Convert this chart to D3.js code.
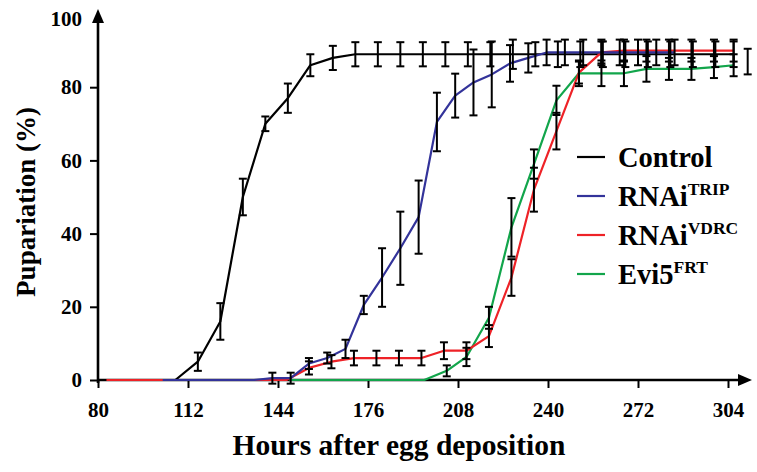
<!DOCTYPE html>
<html><head><meta charset="utf-8">
<script src="https://cdn.jsdelivr.net/npm/d3@7"></script>
<style>
body{margin:0;background:#fff;}
svg text{font-family:"Liberation Serif","Times New Roman",serif;font-weight:bold;fill:#000;}
</style></head>
<body><svg id="c" width="757" height="472"></svg>
<script>
// ---- data ----
const xTicks = [80,112,144,176,208,240,272,304];
const yTicks = [0,20,40,60,80,100];

const controlT = [99.5,107.5,115.5,123.5,131.5,139.5,147.5,155.5,163.5,171.5,179.5,187.5,195.5,203.5,211.5,219.5,227.5,235.5,243.5,251.5,259.5,267.5,275.5,283.5,291.5,299.5,306];
const controlV = [0,0,5,16,50,70,77,86,88,89,89,89,89,89,89,89,89,89,89,89,89,89,89,89,89,89,89];
const controlE = [0,0,2.5,5,5,2,4,3,3.3,3.3,3.3,3.3,3.3,3.3,3.3,3.3,4,3.3,3.5,3.5,3.5,3.5,3.5,3.5,3.5,3.5,3.5];

const tripT = [103,109.5,116,122.5,129,135.5,142,148.5,155,161.5,168,174.5,181,187.5,194,200.5,207,213.5,220,226.5,233,239.5,246,252.5,259,265.5,272,278.5,285];
const tripV = [0,0,0,0,0,0,0.5,0.5,4.5,6,8.5,20.5,28,36,44.5,70.5,77.7,81.3,83.5,86.5,88,89.5,89.5,89.5,89.5,89.5,89.5,89.5,89.5];
const tripE = [0,0,0,0,0,0,1.5,1.5,1.5,1.5,2.5,2.5,8,10,10,8,6,9,9,5,4,3.5,3.5,3.5,3.5,3.5,3.5,3.5,3.5];

const vdrcT = [83,91,99,107,115,123,131,139,147,155,163,171,179,187,195,203,211,219,227,235,243,251,259,267,275,283,291,299,306];
const vdrcV = [0,0,0,0,0,0,0,0,0,3.3,5,6,6,6,6,8,8,12,28,52,68,84,89.5,90,90,90,90,90,90];
const vdrcE = [0,0,0,0,0,0,0,0,0,1.8,1.8,2,2,2,2,2.3,2.3,3,5,6,5,3,3,3,3,3,3,3,3];

const frtT = [148,156,164,172,180,188,196,204,211,219,227,235,243,251,259,267,275,283,291,299,306];
const frtV = [0,0,0,0,0,0,0,2.5,6.3,17,41.7,59,76.4,83.8,83.8,83.8,85,85,85,85.5,86];
const frtE = [0,0,0,0,0,0,0,1.5,2.5,3,8,4,4,3.5,3.5,3.5,3.5,3,3,3,3];

const strayT = [311], strayV = [87], strayE = [3.5];

const seriesNames = ["Control","RNAi","RNAi","Evi5"];
const seriesSups = ["","TRIP","VDRC","FRT"];
const seriesColors = ["#000000","#33339a","#ee2227","#12a54b"];

// ---- drawing ----
const svg = d3.select("#c");
const x = d3.scaleLinear().domain([80,304]).range([98,728]);
const y = d3.scaleLinear().domain([0,100]).range([380,14]);

function zip(t,v,e){return t.map((d,i)=>({t:d,v:v[i],e:e[i]}));}
const series = [
  {data:zip(controlT,controlV,controlE), color:seriesColors[0]},
  {data:zip(tripT,tripV,tripE), color:seriesColors[1]},
  {data:zip(vdrcT,vdrcV,vdrcE), color:seriesColors[2]},
  {data:zip(frtT,frtV,frtE), color:seriesColors[3]}
];

// axes
const axW = 2.6;
svg.append("line").attr("x1",x(80)).attr("x2",742).attr("y1",y(0)).attr("y2",y(0)).attr("stroke","#000").attr("stroke-width",axW);
svg.append("path").attr("d",`M752,${y(0)} L738,${y(0)-6} L738,${y(0)+6} Z`).attr("fill","#000");
svg.append("line").attr("x1",x(80)).attr("x2",x(80)).attr("y1",y(0)+3).attr("y2",20).attr("stroke","#000").attr("stroke-width",axW);
svg.append("path").attr("d",`M${x(80)},9 L${x(80)-6},23 L${x(80)+6},23 Z`).attr("fill","#000");

const xAxis = svg.append("g").attr("transform",`translate(0,${y(0)})`)
  .call(d3.axisBottom(x).tickValues(xTicks).tickSize(8).tickSizeOuter(0).tickPadding(14));
xAxis.select(".domain").remove();
xAxis.selectAll("line").attr("stroke","#000").attr("stroke-width",2);
xAxis.selectAll("text").attr("font-size",21).attr("fill","#000").style("font-family","Liberation Serif").style("font-weight","bold");

const yAxis = svg.append("g").attr("transform",`translate(${x(80)},0)`)
  .call(d3.axisLeft(y).tickValues(yTicks).tickSize(8).tickSizeOuter(0).tickPadding(8));
yAxis.select(".domain").remove();
yAxis.selectAll("line").attr("stroke","#000").attr("stroke-width",2);
yAxis.selectAll("line").filter(d=>d===100).remove();
yAxis.selectAll("text").attr("font-size",21).attr("fill","#000").style("font-family","Liberation Serif").style("font-weight","bold");
yAxis.selectAll("text").filter(d=>d===100).attr("dy","0.55em");

// axis titles
svg.append("text").attr("x",399).attr("y",455).attr("text-anchor","middle").attr("font-size",29.5).text("Hours after egg deposition");
svg.append("text").attr("transform","translate(35,202) rotate(-90)").attr("text-anchor","middle").attr("font-size",27).text("Pupariation (%)");

// lines (draw order: green, black, red, blue)
const line = d3.line().x(d=>x(d.t)).y(d=>y(d.v));
const order = [3,0,2,1];
order.forEach(i=>{
  svg.append("path").datum(series[i].data).attr("d",line).attr("fill","none")
    .attr("stroke",series[i].color).attr("stroke-width",2.2).attr("stroke-linejoin","round");
});

// error bars (all black)
const allBars = [];
series.forEach(s=>s.data.forEach(d=>{ if(d.e>0) allBars.push(d); }));
zip(strayT,strayV,strayE).forEach(d=>allBars.push(d));
const eb = svg.append("g").attr("stroke","#000").attr("stroke-width",2);
allBars.forEach(d=>{
  const cx = x(d.t), y1 = y(d.v+d.e), y2 = y(d.v-d.e);
  eb.append("line").attr("x1",cx).attr("x2",cx).attr("y1",y1).attr("y2",y2);
  eb.append("line").attr("x1",cx-4).attr("x2",cx+4).attr("y1",y1).attr("y2",y1);
  eb.append("line").attr("x1",cx-4).attr("x2",cx+4).attr("y1",y2).attr("y2",y2);
});

// legend
const legY = [157,196,235,274];
const leg = svg.append("g");
seriesNames.forEach((n,i)=>{
  leg.append("line").attr("x1",577).attr("x2",605).attr("y1",legY[i]).attr("y2",legY[i])
    .attr("stroke",seriesColors[i]).attr("stroke-width",2.2);
  const t = leg.append("text").attr("x",618).attr("y",legY[i]+10).attr("font-size",28.5);
  t.append("tspan").text(n);
  if(seriesSups[i]) t.append("tspan").attr("font-size",17.5).attr("dy",-11).text(seriesSups[i]);
});
</script></body></html>
